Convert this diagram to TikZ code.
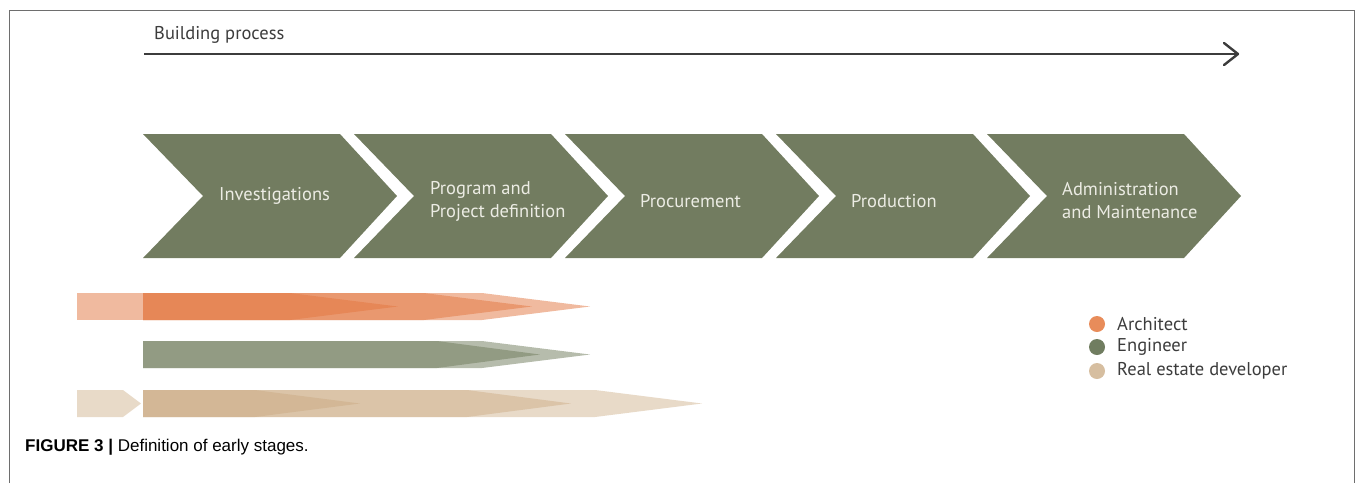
\documentclass[tikz,border=0pt]{standalone}
\usepackage{fontspec}
\setmainfont{PT Sans}
\newfontfamily\capfont{Liberation Sans}
\usetikzlibrary{arrows.meta}
\definecolor{stage}{RGB}{114,124,96}
\definecolor{stagetext}{RGB}{236,236,228}
\definecolor{archc}{RGB}{226,118,64}
\definecolor{engc}{RGB}{110,122,90}
\definecolor{devc}{RGB}{200,166,124}
\definecolor{archdot}{RGB}{232,140,90}
\definecolor{engdot}{RGB}{112,125,96}
\definecolor{devdot}{RGB}{214,190,160}
\definecolor{frame}{RGB}{110,110,110}
\definecolor{txt}{RGB}{60,60,60}
\tikzset{
  stagebox/.style={fill=stage},
  stagelabel/.style={text=stagetext,font=\fontsize{18.5}{23}\selectfont,anchor=west,align=left,inner sep=0pt},
  archbar/.style={fill=archc,fill opacity=0.5},
  engbar/.style={fill=engc,fill opacity=0.5},
  devbar/.style={fill=devc,fill opacity=0.42},
  legdot/.style={circle,minimum size=16pt,inner sep=0pt},
  legtext/.style={text=txt,font=\fontsize{18.5}{22}\selectfont,anchor=west,inner sep=0pt},
}
\begin{document}
\begin{tikzpicture}[x=1pt,y=-1pt]
\useasboundingbox (0,0) rectangle (1357,483);
% frame
\draw[frame,line width=1pt] (9,483) -- (9,10) -- (1354,10) -- (1354,483);
% building process
\node[text=txt,font=\fontsize{18.5}{22}\selectfont,anchor=west,inner sep=0pt] (bp) at (154,35) {Building process};
\coordinate (bpstart) at (144,54);
\coordinate (bpend) at (1238,54);
\draw[txt,line width=2pt] (bpstart) -- (bpend);
\draw[txt,line width=2.4pt,line cap=round,line join=round] (1224,43) -- (bpend) -- (1224,65);
% stages
\foreach \i in {0,...,4}{
  \pgfmathsetmacro{\xo}{143+211*\i}
  \fill[stagebox] (\xo,134) -- ++(197,0) -- ++(57,62) -- ++(-57,62) -- ++(-197,0) -- ++(60,-62) -- cycle;
}
\node[stagelabel] (s1) at (219,196) {Investigations};
\node[stagelabel] (s2) at (430,201) {Program and\\Project definition};
\node[stagelabel] (s3) at (640,201) {Procurement};
\node[stagelabel] (s4) at (851,201) {Production};
\node[stagelabel] (s5) at (1062,201) {Administration\\and Maintenance};
% architect bars
\fill[archbar] (77,293) rectangle (143,320);
\foreach \f/\t in {290/398,424/532,482/590}{
  \fill[archbar] (143,293) -- (\f,293) -- (\t,306.5) -- (\f,320) -- (143,320) -- cycle;
}
% engineer bars
\foreach \f/\t in {437/540,482/590}{
  \fill[engbar] (143,341) -- (\f,341) -- (\t,354.5) -- (\f,368) -- (143,368) -- cycle;
}
% developer bars
\fill[devbar] (77,390) -- (123,390) -- (141,403.5) -- (123,417) -- (77,417) -- cycle;
\foreach \f/\t in {255/360,467/571,595/702}{
  \fill[devbar] (143,390) -- (\f,390) -- (\t,403.5) -- (\f,417) -- (143,417) -- cycle;
}
% legend
\node[legdot,fill=archdot] (la) at (1097,324) {};
\node[legdot,fill=engdot] (le) at (1097,347) {};
\node[legdot,fill=devdot] (ld) at (1097,371) {};
\node[legtext] (ta) at (1117,324) {Architect};
\node[legtext] (te) at (1117,347) {Engineer};
\node[legtext] (td) at (1117,371) {Real estate developer};
% caption
\node[anchor=west,inner sep=0pt,font=\capfont\fontsize{17}{20}\selectfont] (cap) at (25,447) {\textbf{FIGURE 3 |} Definition of early stages.};
\end{tikzpicture}
\end{document}
